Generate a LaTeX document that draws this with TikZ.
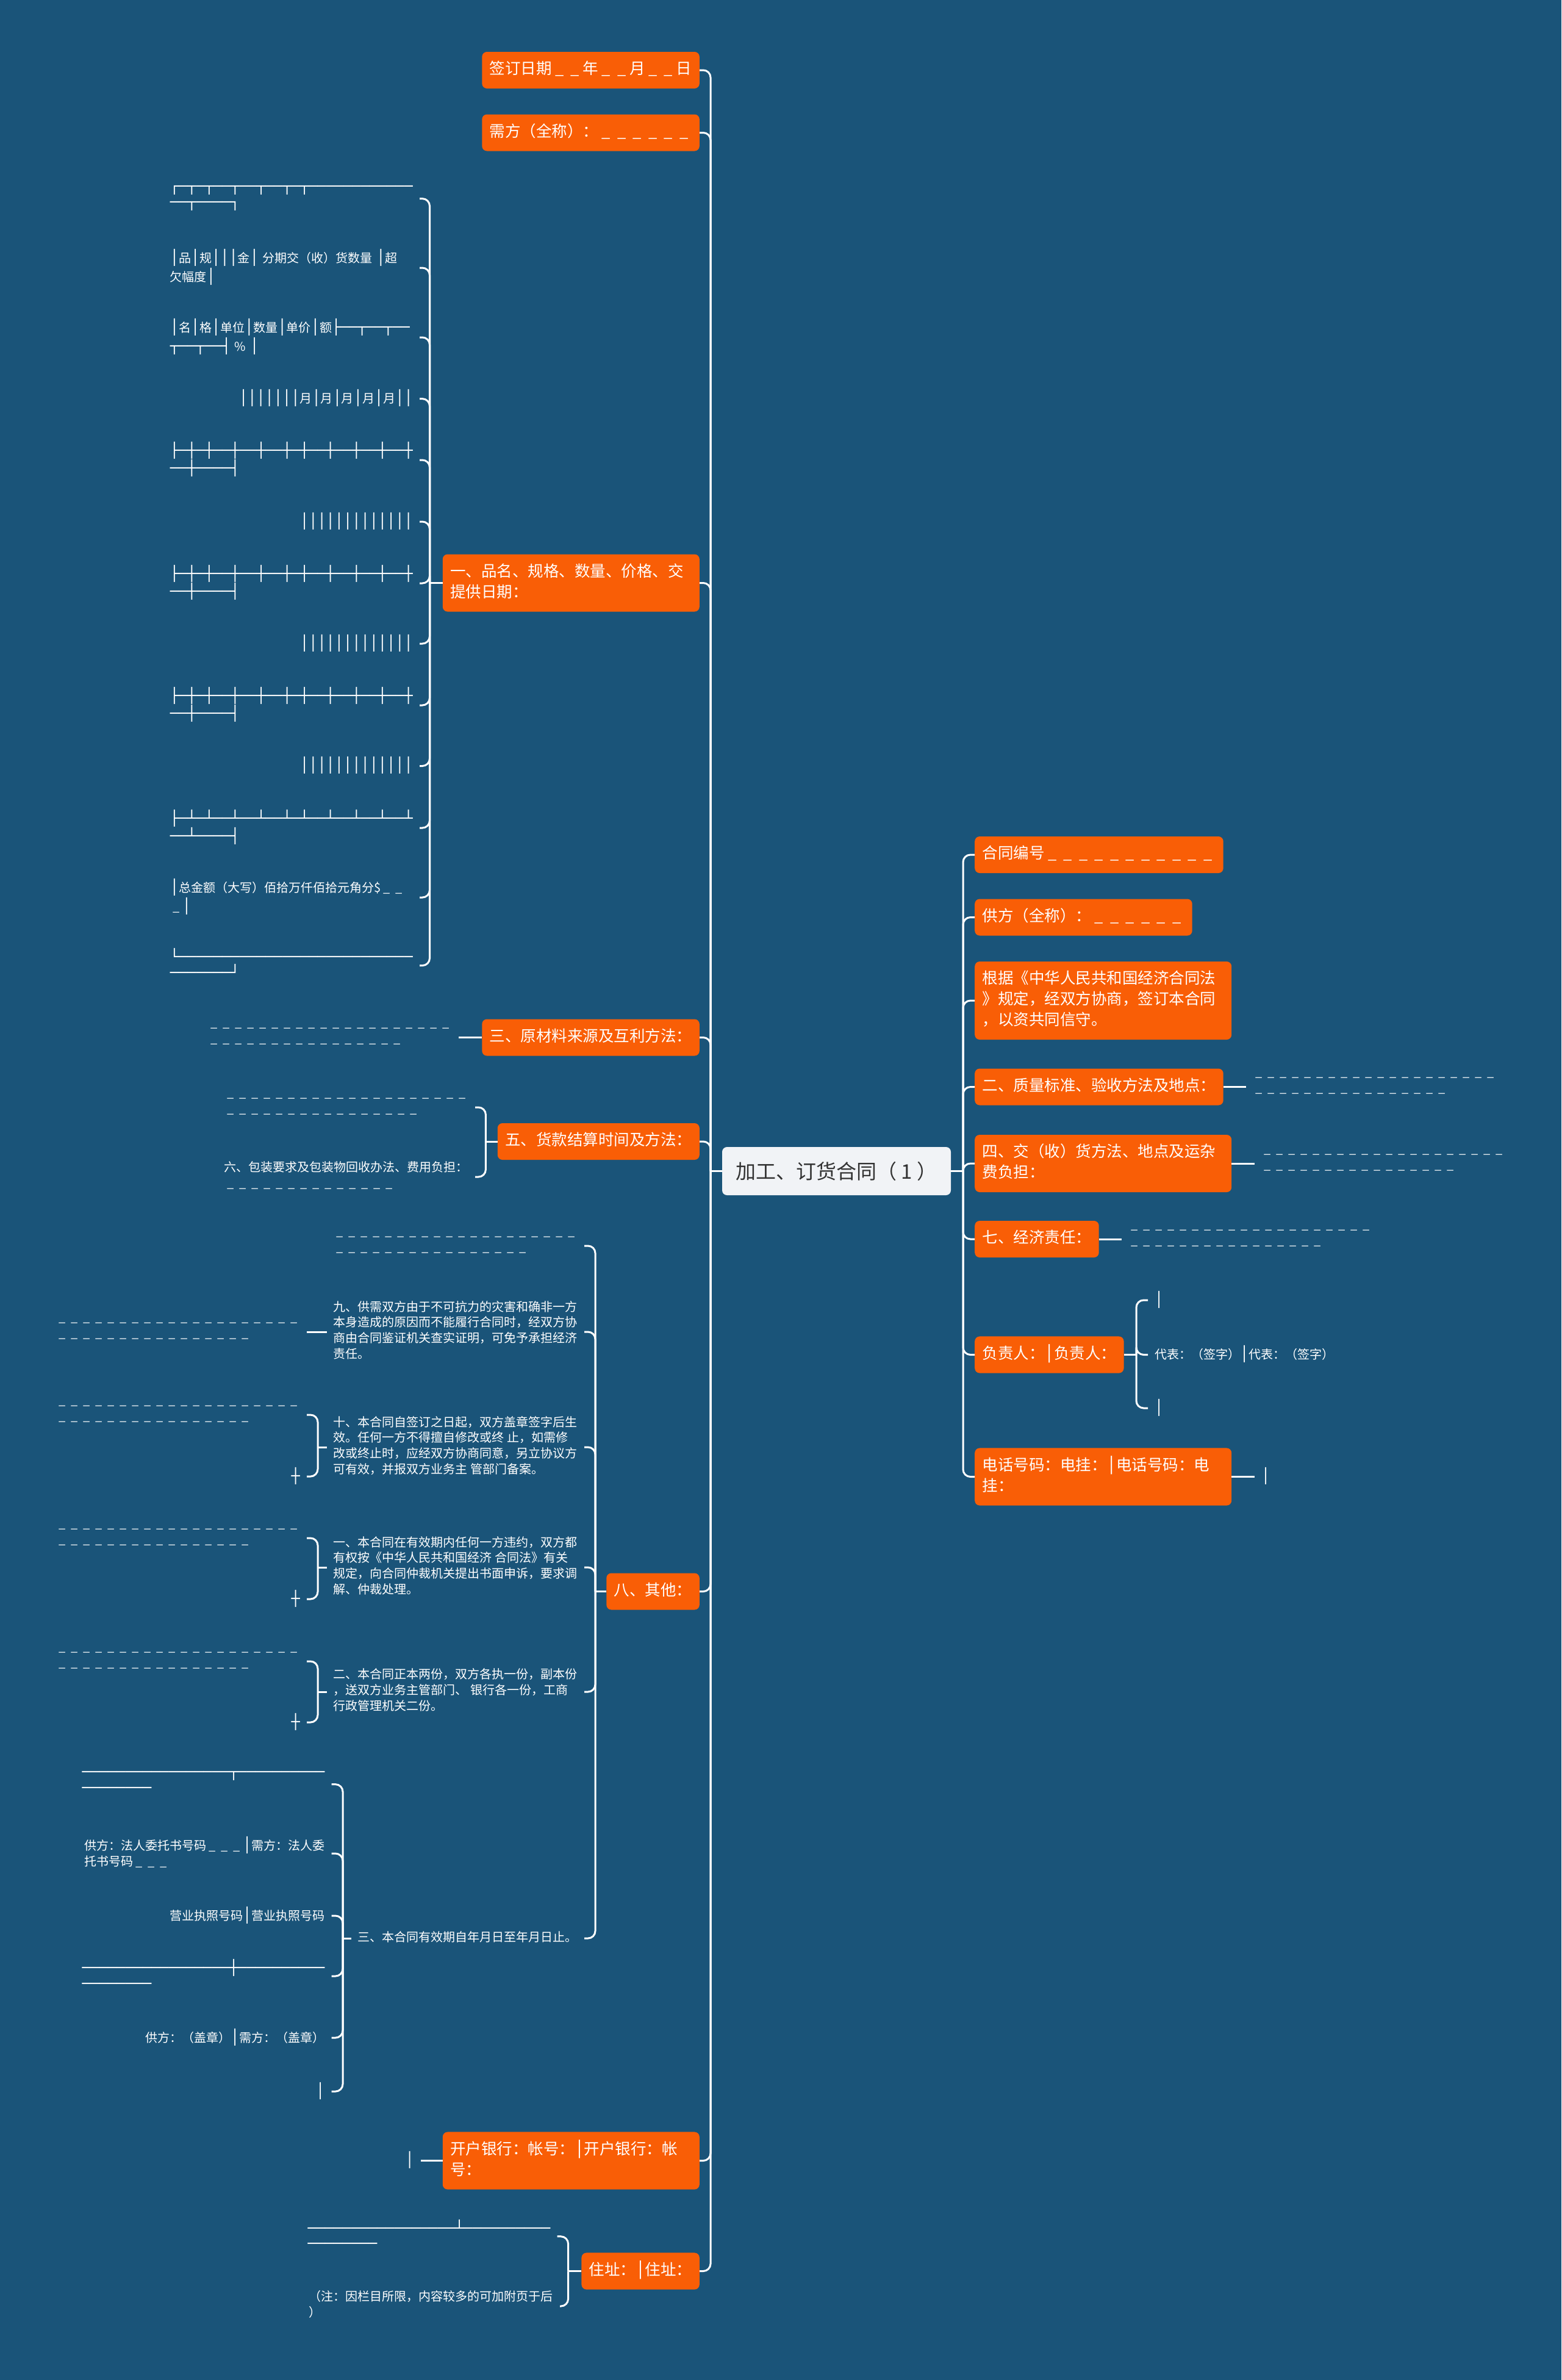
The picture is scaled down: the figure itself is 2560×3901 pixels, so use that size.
\documentclass[tikz,border=0pt]{standalone}
\usepackage{fontspec}
\setmainfont{Noto Sans CJK SC}
\newfontfamily\bxf{DejaVu Sans Mono}
\newcommand\bx[1]{{\bxf\fontsize{23.6}{25.7}\selectfont #1}}
\newcommand\vb{{\bxf │}}
\newcommand\us{\makebox[1em][c]{\_}}
\ExplSyntaxOn
\NewDocumentCommand\dsh{m}{\prg_replicate:nn{#1}{\us}}
\NewDocumentCommand\hl{m}{\prg_replicate:nn{#1}{─}}
\ExplSyntaxOff
\newcommand\sB{\rule[-10.2pt]{0pt}{34pt}}
\newcommand\sL{\rule[-7.7pt]{0pt}{25.7pt}}
\definecolor{bg}{HTML}{1A5479}
\definecolor{org}{HTML}{F95E06}
\definecolor{rootfill}{HTML}{F1F3F6}
\definecolor{roottext}{HTML}{333333}
\tikzset{
  box/.style={fill=org, rounded corners=8pt, text=white, font=\fontsize{25.5}{34}\selectfont, inner xsep=12.5pt, inner ysep=13pt, align=left, execute at begin node=\sB, execute at end node=\sB},
  wbox/.style={box, text width=396pt},
  leaf/.style={text=white, font=\fontsize{20}{25.7}\selectfont, inner xsep=11pt, inner ysep=0pt, align=left, execute at begin node=\sL, execute at end node=\sL},
  wleaf/.style={leaf, text width=398pt},
  conn/.style={draw=white, line width=3pt, rounded corners=12pt},
  rootbox/.style={fill=rootfill, rounded corners=8pt, text=roottext, font=\fontsize{33}{40}\selectfont, minimum width=375pt, minimum height=79pt, inner sep=0pt}
}
\begin{document}
\begin{tikzpicture}[x=1pt,y=-1pt]
\useasboundingbox (0,0) rectangle (2560,3901);
\fill[bg] (0,0) rectangle (2560,3901);

% root
\node[rootbox] (root) at (1371.5,1919.5) {加工、订货合同（ 1 ）};

% left main boxes
\node[box,anchor=east] (b1) at (1147,115) {签订日期\us\us 年\us\us 月\us\us 日};
\node[box,anchor=east] (b2) at (1147,217.5) {需方（全称）：\dsh{6}};
\node[wbox,anchor=east] (b3) at (1147,955.5) {一、品名、规格、数量、价格、交\\提供日期：};
\node[box,anchor=east] (b4) at (1147,1700.5) {三、原材料来源及互利方法：};
\node[box,anchor=east] (b5) at (1147,1871) {五、货款结算时间及方法：};
\node[box,anchor=east] (b6) at (1147,2608.5) {八、其他：};
\node[wbox,anchor=east] (b7) at (1147,3541.5) {开户银行：帐号：\vb 开户银行：帐\\号：};
\node[box,anchor=east] (b8) at (1147,3722.5) {住址：\vb 住址：};

% right main boxes
\node[box,anchor=west] (r1) at (1598,1401) {合同编号\dsh{11}};
\node[box,anchor=west] (r2) at (1598,1503.5) {供方（全称）：\dsh{6}};
\node[wbox,anchor=west] (r3) at (1598,1640) {根据《中华人民共和国经济合同法\\》规定，经双方协商，签订本合同\\，以资共同信守。};
\node[box,anchor=west] (r4) at (1598,1781.5) {二、质量标准、验收方法及地点：};
\node[wbox,anchor=west] (r5) at (1598,1907) {四、交（收）货方法、地点及运杂\\费负担：};
\node[box,anchor=west] (r6) at (1598,2031) {七、经济责任：};
\node[box,anchor=west] (r7) at (1598,2220.5) {负责人：\vb 负责人：};
\node[wbox,anchor=west] (r8) at (1598,2420.5) {电话号码：电挂：\vb 电话号码：电\\挂：};

% right leaves
\node[leaf,anchor=west] (r4a) at (2043,1781.5) {\dsh{20}\\\dsh{16}};
\node[leaf,anchor=west] (r5a) at (2057,1907) {\dsh{20}\\\dsh{16}};
\node[leaf,anchor=west] (r6a) at (1839,2031) {\dsh{20}\\\dsh{16}};
\node[leaf,anchor=west] (r7a) at (1882,2131) {\bx{│}};
\node[leaf,anchor=west] (r7b) at (1882,2220.5) {代表：（签字）\bx{│}代表：（签字）};
\node[leaf,anchor=west] (r7c) at (1882,2308) {\bx{│}};
\node[leaf,anchor=west] (r8a) at (2057,2420.5) {\bx{│}};

% leaves of b3
\node[leaf,anchor=east] (a1) at (688,325.6) {\bx{┌─┬─┬──┬──┬──┬─┬\hl{12}}\\\bx{──┬────┐}};
\node[wleaf,anchor=east] (a2) at (688,439) {\bx{│}品\bx{│}规\bx{│││}金\bx{│} 分期交（收）货数量 \bx{│}超\\欠幅度\bx{│}};
\node[wleaf,anchor=east] (a3) at (688,553) {\bx{│}名\bx{│}格\bx{│}单位\bx{│}数量\bx{│}单价\bx{│}额\bx{├──┬──┬──}\\\bx{┬──┬──┤} \% \bx{│}};
\node[leaf,anchor=east] (a4) at (688,653.6) {\bx{│││││││}月\bx{│}月\bx{│}月\bx{│}月\bx{│}月\bx{││}};
\node[leaf,anchor=east] (a5) at (688,754) {\bx{├─┼─┼──┼──┼──┼─┼──┼──┼──┼──┼}\\\bx{──┼────┤}};
\node[leaf,anchor=east] (a6) at (688,855) {\bx{│││││││││││││}};
\node[leaf,anchor=east] (a7) at (688,956) {\bx{├─┼─┼──┼──┼──┼─┼──┼──┼──┼──┼}\\\bx{──┼────┤}};
\node[leaf,anchor=east] (a8) at (688,1055) {\bx{│││││││││││││}};
\node[leaf,anchor=east] (a9) at (688,1156) {\bx{├─┼─┼──┼──┼──┼─┼──┼──┼──┼──┼}\\\bx{──┼────┤}};
\node[leaf,anchor=east] (a10) at (688,1255.5) {\bx{│││││││││││││}};
\node[leaf,anchor=east] (a11) at (688,1357) {\bx{├─┴─┴──┴──┴──┴─┴──┴──┴──┴──┴}\\\bx{──┴────┤}};
\node[wleaf,anchor=east] (a12) at (688,1471) {\bx{│}总金额（大写）佰拾万仟佰拾元角分\$\us\us\\\us\bx{│}};
\node[leaf,anchor=east] (a13) at (688,1582.6) {\bx{└\hl{27}}\\\bx{\hl{7}┘}};

% leaves of b4, b5
\node[leaf,anchor=east] (l4) at (752,1700.5) {\dsh{20}\\\dsh{16}};
\node[leaf,anchor=east] (l5a) at (779,1815) {\dsh{20}\\\dsh{16}};
\node[leaf,anchor=east] (l5b) at (779,1929) {六、包装要求及包装物回收办法、费用负担：\\\dsh{14}};

% leaves of b6
\node[leaf,anchor=east] (e1) at (958,2042) {\dsh{20}\\\dsh{16}};
\node[leaf,anchor=east] (e2) at (958,2183) {九、供需双方由于不可抗力的灾害和确非一方\\本身造成的原因而不能履行合同时，经双方协\\商由合同鉴证机关查实证明，可免予承担经济\\责任。};
\node[leaf,anchor=east] (e3) at (958,2372) {十、本合同自签订之日起，双方盖章签字后生\\效。任何一方不得擅自修改或终 止，如需修\\改或终止时，应经双方协商同意，另立协议方\\可有效，并报双方业务主 管部门备案。};
\node[leaf,anchor=east] (e4) at (958,2569) {一、本合同在有效期内任何一方违约，双方都\\有权按《中华人民共和国经济 合同法》有关\\规定，向合同仲裁机关提出书面申诉，要求调\\解、仲裁处理。};
\node[leaf,anchor=east] (e5) at (958,2773) {二、本合同正本两份，双方各执一份，副本份\\，送双方业务主管部门、 银行各一份，工商\\行政管理机关二份。};
\node[leaf,anchor=east] (e6) at (958,3177) {三、本合同有效期自年月日至年月日止。};

\node[leaf,anchor=east] (e2a) at (503,2183) {\dsh{20}\\\dsh{16}};
\node[leaf,anchor=east] (e3a) at (503,2319) {\dsh{20}\\\dsh{16}};
\node[leaf,anchor=east] (e3b) at (503,2420) {\bx{┼}};
\node[leaf,anchor=east] (e4a) at (503,2521) {\dsh{20}\\\dsh{16}};
\node[leaf,anchor=east] (e4b) at (503,2621) {\bx{┼}};
\node[leaf,anchor=east] (e5a) at (503,2723) {\dsh{20}\\\dsh{16}};
\node[leaf,anchor=east] (e5b) at (503,2823) {\bx{┼}};

\node[leaf,anchor=east] (f1) at (543.6,2924.6) {\bx{\hl{17}┬\hl{10}}\\\bx{\hl{8}}};
\node[leaf,anchor=east] (f2) at (543.6,3038) {供方：法人委托书号码\us\us\us\bx{│}需方：法人委\\托书号码\us\us\us};
\node[leaf,anchor=east] (f3) at (543.6,3140) {营业执照号码\bx{│}营业执照号码};
\node[leaf,anchor=east] (f4) at (543.6,3239) {\bx{\hl{17}┼\hl{10}}\\\bx{\hl{8}}};
\node[leaf,anchor=east] (f5) at (543.6,3340) {供方：（盖章）\bx{│}需方：（盖章）};
\node[leaf,anchor=east] (f6) at (543.6,3428) {\bx{│}};

% leaves of b7, b8
\node[leaf,anchor=east] (k1) at (690,3541.5) {\bx{│}};
\node[leaf,anchor=east] (h1) at (913.6,3665.7) {\bx{\hl{17}┴\hl{10}}\\\bx{\hl{8}}};
\node[leaf,anchor=east] (h2) at (918,3780) {（注：因栏目所限，内容较多的可加附页于后\\）};

% ---------- connectors ----------
\draw[conn] (root.west) -- (1165,1919.5) coordinate (jl);
\foreach \n in {b1,b2,b3,b4,b5,b6,b7,b8} \draw[conn] (jl) |- (\n.east);
\draw[conn] (root.east) -- (1579,1919.5) coordinate (jr);
\foreach \n in {r1,r2,r3,r4,r5,r6,r7,r8} \draw[conn] (jr) |- (\n.west);

\draw[conn] (r4.east) -- (r4a.west);
\draw[conn] (r5.east) -- (r5a.west);
\draw[conn] (r6.east) -- (r6a.west);
\draw[conn] (r7.east) -- (1863,2220.5) coordinate (j7);
\foreach \n in {r7a,r7b,r7c} \draw[conn] (j7) |- (\n.west);
\draw[conn] (r8.east) -- (r8a.west);

\draw[conn] (b3.west) -- (704.5,955.5) coordinate (j3);
\foreach \n in {a1,a2,a3,a4,a5,a6,a7,a8,a9,a10,a11,a12,a13} \draw[conn] (j3) |- (\n.east);

\draw[conn] (b4.west) -- (l4.east);
\draw[conn] (b5.west) -- (796.4,1871) coordinate (j5);
\foreach \n in {l5a,l5b} \draw[conn] (j5) |- (\n.east);

\draw[conn] (b6.west) -- (976,2608.5) coordinate (j6);
\foreach \n in {e1,e2,e3,e4,e5,e6} \draw[conn] (j6) |- (\n.east);
\draw[conn] (e2.west) -- (e2a.east);
\draw[conn] (e3.west) -- (521,2372) coordinate (j63);
\foreach \n in {e3a,e3b} \draw[conn] (j63) |- (\n.east);
\draw[conn] (e4.west) -- (521,2569) coordinate (j64);
\foreach \n in {e4a,e4b} \draw[conn] (j64) |- (\n.east);
\draw[conn] (e5.west) -- (521,2773) coordinate (j65);
\foreach \n in {e5a,e5b} \draw[conn] (j65) |- (\n.east);
\draw[conn] (e6.west) -- (562,3177) coordinate (j66);
\foreach \n in {f1,f2,f3,f4,f5,f6} \draw[conn] (j66) |- (\n.east);

\draw[conn] (b7.west) -- (k1.east);
\draw[conn] (b8.west) -- (931.6,3722.5) coordinate (j8);
\foreach \n in {h1,h2} \draw[conn] (j8) |- (\n.east);
\end{tikzpicture}
\end{document}
